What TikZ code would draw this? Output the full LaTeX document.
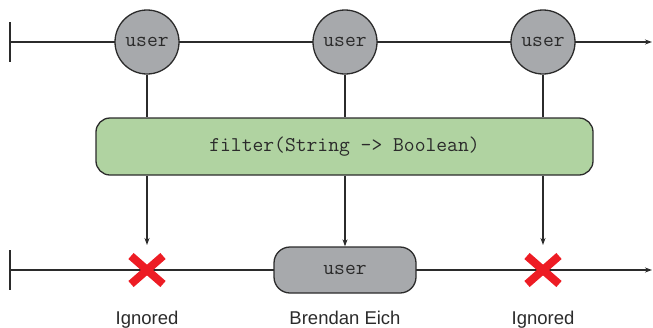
\documentclass[tikz,border=0pt]{standalone}
\usepackage{fontspec}
\setmainfont{Liberation Sans}
\usetikzlibrary{arrows.meta}
\definecolor{linec}{HTML}{2B2B2B}
\definecolor{grayfill}{HTML}{A7A9AC}
\definecolor{greenfill}{HTML}{B0D3A1}
\definecolor{xred}{HTML}{ED1C24}
\tikzset{
  line/.style={draw=linec, line width=1.3pt},
  arr/.style={line, -{Stealth[length=7pt,width=5pt]}},
  monofont/.style={font=\fontsize{21}{23}\selectfont\ttfamily, text=linec},
  usercirc/.style={circle, draw=linec, line width=1.3pt, fill=grayfill, minimum size=64pt, inner sep=0pt, monofont},
  filterbox/.style={rectangle, rounded corners=14pt, draw=linec, line width=1.3pt, fill=greenfill, minimum width=497pt, minimum height=57pt, monofont},
  userbox/.style={rectangle, rounded corners=16pt, draw=linec, line width=1.3pt, fill=grayfill, minimum width=142pt, minimum height=46pt, monofont},
  lbl/.style={anchor=base, font=\fontsize{18.5}{20}\selectfont, text=linec},
  xmark/.style={draw=xred, line width=8pt}
}
\begin{document}
\begin{tikzpicture}[x=1pt,y=1pt]
\useasboundingbox (0,0) rectangle (653,-327);
% top timeline
\coordinate (ts) at (10,-42);
\coordinate (te) at (652,-42);
\coordinate (tt1) at (10,-22);
\coordinate (tt2) at (10,-62);
\draw[line] (tt1) -- (tt2);
\draw[arr] (ts) -- (te);
% bottom timeline
\coordinate (bs) at (10,-270);
\coordinate (be) at (652,-270);
\coordinate (bt1) at (10,-250);
\coordinate (bt2) at (10,-290);
\draw[line] (bt1) -- (bt2);
\draw[arr] (bs) -- (be);
% filter box
\node[filterbox] (f) at (344.5,-146.5) {filter(String -> Boolean)};
% circles
\node[usercirc] (u1) at (147,-42) {user};
\node[usercirc] (u2) at (345,-42) {user};
\node[usercirc] (u3) at (543,-42) {user};
\draw[line] (u1) -- (u1 |- f.north);
\draw[line] (u2) -- (u2 |- f.north);
\draw[line] (u3) -- (u3 |- f.north);
% bottom elements
\node[userbox] (ub) at (345,-270) {user};
\coordinate (x1) at (147,-270);
\coordinate (x3) at (543,-270);
\coordinate (a1) at (147,-245);
\coordinate (a3) at (543,-245);
\draw[arr] (x1 |- f.south) -- (a1);
\draw[arr] (ub |- f.south) -- (ub.north);
\draw[arr] (x3 |- f.south) -- (a3);
\draw[xmark] ([shift={(-16,14)}]x1) -- ([shift={(16,-14)}]x1);
\draw[xmark] ([shift={(-16,-14)}]x1) -- ([shift={(16,14)}]x1);
\draw[xmark] ([shift={(-16,14)}]x3) -- ([shift={(16,-14)}]x3);
\draw[xmark] ([shift={(-16,-14)}]x3) -- ([shift={(16,14)}]x3);
% labels
\node[lbl] (l1) at (147,-324) {Ignored};
\node[lbl] (l2) at (345,-324) {Brendan Eich};
\node[lbl] (l3) at (543,-324) {Ignored};
\end{tikzpicture}
\end{document}
